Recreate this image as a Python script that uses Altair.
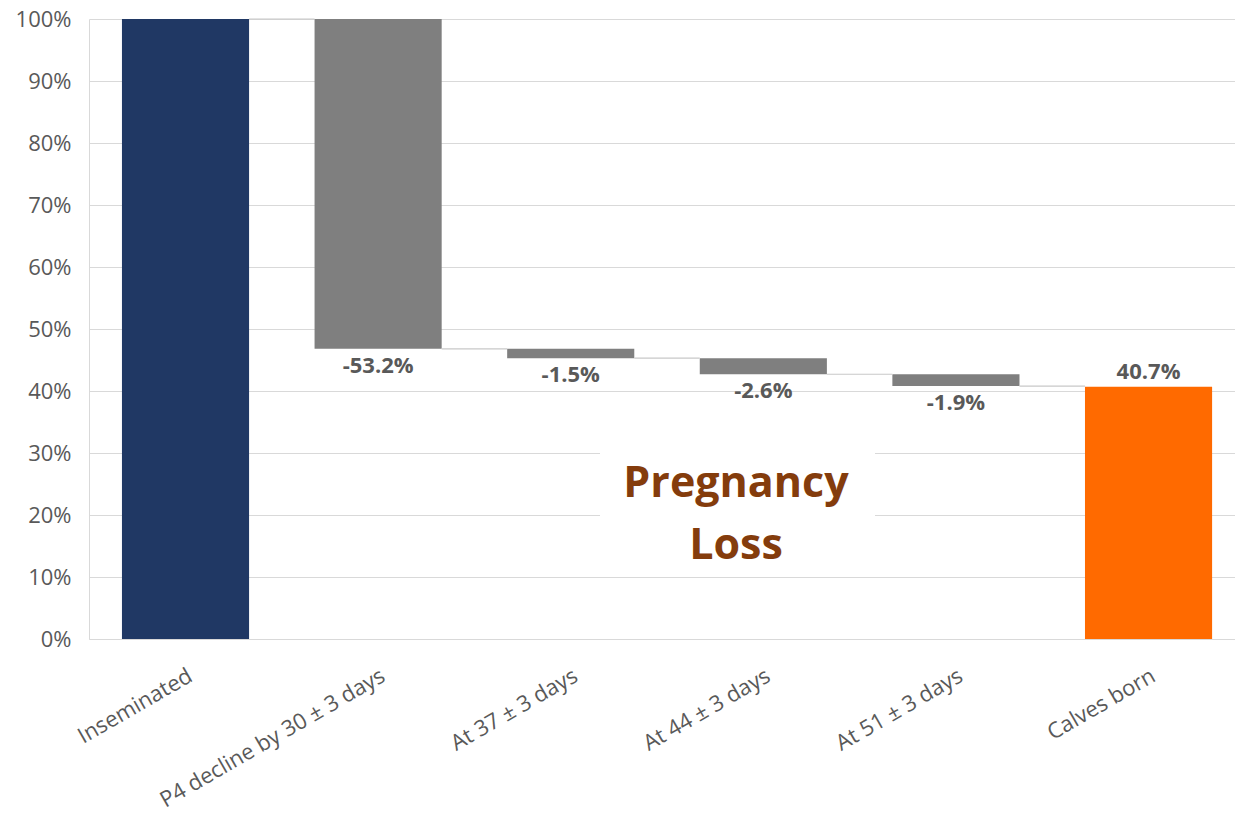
import altair as alt
import pandas as pd

# ---- data ----
categories = ["Inseminated", "P4 decline by 30 ± 3 days", "At 37 ± 3 days",
              "At 44 ± 3 days", "At 51 ± 3 days", "Calves born"]
start_total = 100.0
changes = [-53.2, -1.5, -2.6, -1.9]
final_total = 40.7
kinds = ["start", "loss", "loss", "loss", "loss", "end"]
labels = ["", "-53.2%", "-1.5%", "-2.6%", "-1.9%", "40.7%"]
y_ticks = [0, 10, 20, 30, 40, 50, 60, 70, 80, 90, 100]
annotation = ["Pregnancy", "Loss"]

# ---- build waterfall table ----
lo, hi, level = [0.0], [start_total], [start_total]
cur = start_total
for c in changes:
    nxt = round(cur + c, 1)
    lo.append(min(cur, nxt))
    hi.append(max(cur, nxt))
    cur = nxt
    level.append(cur)
lo.append(0.0)
hi.append(final_total)
level.append(final_total)

df = pd.DataFrame({
    "cat": categories,
    "lo": lo,
    "hi": hi,
    "kind": kinds,
    "label": labels,
})

conn = pd.DataFrame({
    "cat": categories[:-1],
    "next": categories[1:],
    "level": level[:-1],
})

GRID = "#d9d9d9"
TXT = "#595959"
FONT = "Open Sans"

xscale = alt.Scale(paddingInner=0.34, paddingOuter=0.145, align=0.59)
xenc = alt.X("cat:N", sort=categories, scale=xscale, title=None,
             axis=alt.Axis(labelAngle=-30, labelAlign="right", labelBaseline="top",
                           labelOffset=0, labelPadding=26, labelFontSize=22,
                           labelFont=FONT, labelColor=TXT, ticks=False,
                           domain=True, domainColor=GRID, grid=False, labelLimit=0))
yscale = alt.Scale(domain=[0, 100], nice=False)
yenc = alt.Y("lo:Q", scale=yscale, title=None,
             axis=alt.Axis(values=y_ticks, labelExpr="datum.value + '%'",
                           labelFont=FONT, labelFontSize=22, labelColor=TXT,
                           labelPadding=18, ticks=False, domain=True,
                           domainColor=GRID, gridColor=GRID, gridWidth=1.2))

base = alt.Chart(df)

bars = base.mark_bar().encode(
    x=xenc,
    y=yenc,
    y2="hi:Q",
    color=alt.Color("kind:N", legend=None,
                    scale=alt.Scale(domain=["start", "loss", "end"],
                                    range=["#203864", "#7f7f7f", "#ff6a00"])),
)

connectors = alt.Chart(conn).mark_rule(color="#c8c8c8", strokeWidth=1.2).encode(
    x=alt.X("cat:N", sort=categories, bandPosition=1),
    x2=alt.X2("next:N", bandPosition=0),
    y=alt.Y("level:Q"),
)

loss_labels = base.transform_filter("datum.kind == 'loss'").mark_text(
    font=FONT, fontSize=22, fontWeight="bold", color=TXT, baseline="top", dy=7
).encode(x=alt.X("cat:N", sort=categories), y="lo:Q", text="label:N")

end_labels = base.transform_filter("datum.kind == 'end'").mark_text(
    font=FONT, fontSize=22, fontWeight="bold", color=TXT, baseline="bottom", dy=-3
).encode(x=alt.X("cat:N", sort=categories), y="hi:Q", text="label:N")

ann_df = pd.DataFrame({"t": ["\n".join(annotation)]})
box = alt.Chart(ann_df).mark_rect(color="white").encode(
    x=alt.value(511), x2=alt.value(786),
    y=alt.datum(11.5), y2=alt.datum(31.5),
)
ann_text = alt.Chart(ann_df).mark_text(
    font=FONT, fontSize=43, fontWeight="bold", color="#843c0c",
    lineBreak="\n", lineHeight=62, baseline="middle", align="center"
).encode(x=alt.value(647), y=alt.datum(25.0), text="t:N")

chart = alt.layer(bars, connectors, loss_labels, end_labels, box, ann_text).properties(
    width=1146, height=620,
    autosize=alt.AutoSizeParams(type="none"),
    padding={"left": 89, "top": 19, "right": 0, "bottom": 177},
    background="white",
).configure_view(stroke=None)

chart.save("out.html", embed_options={"renderer": "svg", "actions": False})
